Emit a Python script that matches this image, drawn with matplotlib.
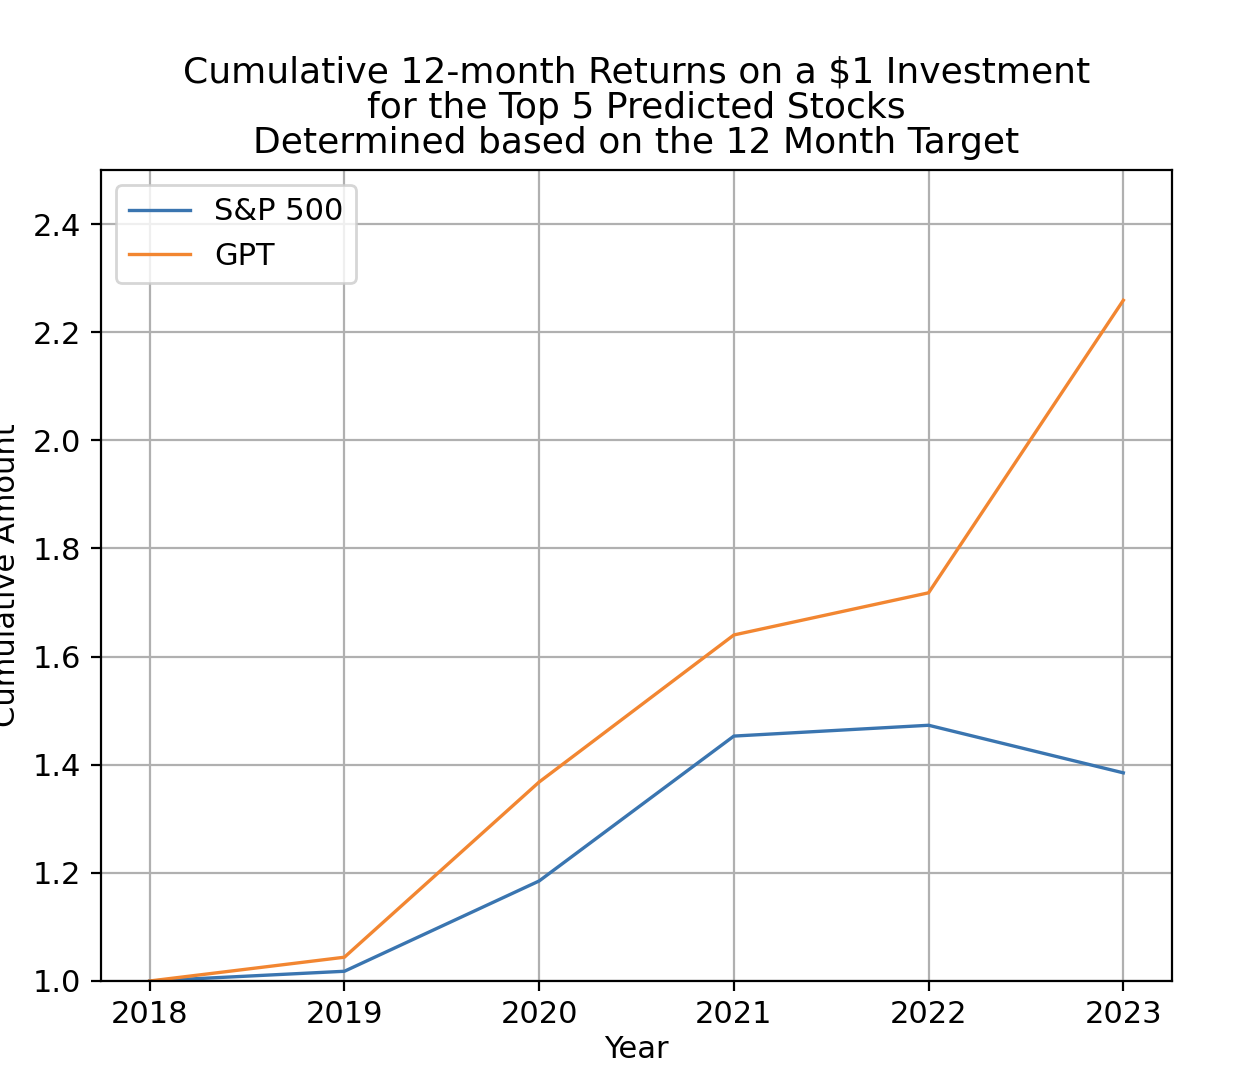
import matplotlib
matplotlib.use("Agg")
import matplotlib.pyplot as plt

years = [2018, 2019, 2020, 2021, 2022, 2023]
sp500 = [1.0, 1.018, 1.185, 1.453, 1.473, 1.385]
gpt = [1.0, 1.044, 1.368, 1.640, 1.718, 2.259]

fig, ax = plt.subplots(figsize=(6.205, 5.455), dpi=200)
fig.subplots_adjust(left=101/1241, right=1172/1241, top=1-170/1091, bottom=1-981/1091)

ax.plot(years, sp500, color="#3a75b0", label="S&P 500", linewidth=1.2)
ax.plot(years, gpt, color="#f28631", label="GPT", linewidth=1.2)
ax.set_ylim(1.0, 2.5)
ax.set_xticks(years)
ax.grid(True)
ax.set_xlabel("Year", fontsize=11, labelpad=2)
ax.set_ylabel("Cumulative Amount", fontsize=11)
ax.yaxis.set_label_coords(-0.075, 0.5)
ax.tick_params(labelsize=11)
ax.set_title("Cumulative 12-month Returns on a $1 Investment\nfor the Top 5 Predicted Stocks\n"
             "Determined based on the 12 Month Target", fontsize=13, linespacing=1.05)
ax.legend(loc="upper left", fontsize=11)

fig.savefig("out.png")
